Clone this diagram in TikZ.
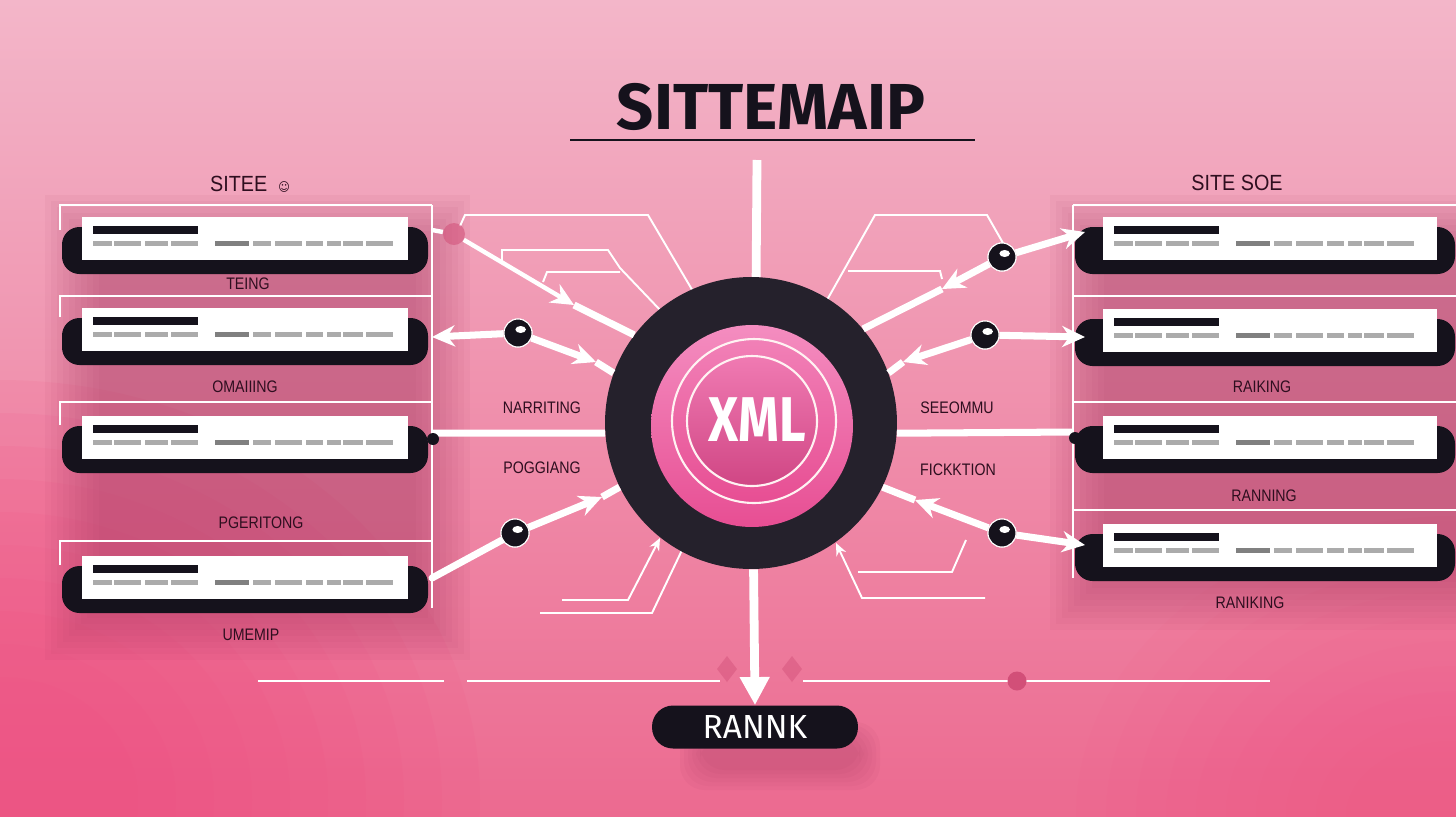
\documentclass[tikz,border=0pt]{standalone}
\usepackage{fontspec}
\setmainfont{Liberation Sans}
\newfontfamily\headfont{Fira Sans}
\newfontfamily\symfont{DejaVu Sans}
\usetikzlibrary{arrows.meta}
\definecolor{bgtop}{HTML}{F3B6C9}
\definecolor{bgbot}{HTML}{EC6A90}
\definecolor{hotbg}{HTML}{F24C80}
\definecolor{mauve}{HTML}{A3365F}
\definecolor{ink}{HTML}{15121C}
\definecolor{disc}{HTML}{25212C}
\definecolor{hotpink}{HTML}{E74E93}
\definecolor{lightpink}{HTML}{F48DC0}
\definecolor{dashgray}{HTML}{ABABAB}
\definecolor{labelink}{HTML}{2E0E1F}
\definecolor{dotpink}{HTML}{D24F78}

\tikzset{
  frame/.style={white, line width=1.1pt},
  wire/.style={white, line width=4pt},
  thinwire/.style={white, line width=1.1pt},
  tip/.style={-{Stealth[length=13pt,width=12pt]}},
  lbl/.style={font=\fontsize{9.5}{10}\selectfont, text=labelink, inner sep=0pt, xscale=.85},
  head/.style={font=\fontsize{12.5}{13}\selectfont, text=labelink, inner sep=0pt, xscale=.9},
  knob/.style={circle, fill=ink, draw=white, line width=.6pt, minimum size=0.56cm, inner sep=0pt},
  smallknob/.style={circle, fill=ink, minimum size=0.24cm, inner sep=0pt},
  pinkdot/.style={circle, fill=dotpink, opacity=.55, minimum size=0.44cm, inner sep=0pt},
}

% card with shadow bar: x, y, width, shadow left, shadow right
\newcommand\sitecard[5]{%
  \fill[ink, rounded corners=10pt] (#4,#2+10) rectangle (#5,#2+57);
  \fill[white] (#1,#2) rectangle (#1+#3,#2+43);
  \fill[ink] (#1+11,#2+9) rectangle (#1+116,#2+17);
  \foreach \a/\b in {11/30,32/59,63/86,89/116,171/189,193/220,224/241,245/259,261/281,284/311}
    {\fill[dashgray] (#1+\a,#2+24) rectangle (#1+\b,#2+29);}
  \fill[gray] (#1+133,#2+24) rectangle (#1+167,#2+29);
}
\newcommand\glint[1]{\fill[white] ([xshift=1.5pt,yshift=2pt]#1.center) ellipse (3pt and 2pt);}

\begin{document}
\begin{tikzpicture}[x=0.02cm,y=-0.02cm,>=Stealth]
\useasboundingbox (0,0) rectangle (1456,816);

% background
\shade[top color=bgtop, bottom color=bgbot] (0,0) rectangle (1456,816);
\foreach \i in {0,...,9} {
  \fill[hotbg, opacity=.09] (0,800) ellipse ({480-\i*38} and {420-\i*33});
  \fill[hotbg, opacity=.04] (1456,816) ellipse ({380-\i*30} and {300-\i*25});
}
\foreach \i in {0,...,9} {
  \fill[mauve, opacity=.055] (45+\i*6,195+\i*6) rectangle (470-\i*6,660-\i*6);
  \fill[mauve, opacity=.055] (1050+\i*6,195+\i*6) rectangle (1456,630-\i*6);
}

% title
\node[font=\headfont\bfseries\fontsize{37}{37}\selectfont, text=ink, inner sep=0pt] (title) at (771,107) {SITTEMAIP};
\draw[ink, line width=.8pt] (570,140) -- (975,140);

% left panel
\node[head] (lhead) at (250,184) {SITEE\hspace{7pt}{\symfont\fontsize{7}{7}\selectfont ☺}};
\foreach \t/\b in {205/230,296/317,402/425,541/565}
  {\draw[frame] (60,\b) -- (60,\t) -- (432,\t);}
\draw[frame] (432,205) -- (432,608);
\sitecard{82}{217}{326}{62}{428}
\sitecard{82}{308}{326}{62}{428}
\sitecard{82}{416}{326}{62}{428}
\sitecard{82}{556}{326}{62}{428}
\node[lbl] (l1) at (248,284) {TEING};
\node[lbl] (l2) at (245,387) {OMAIIING};
\node[lbl] (l3) at (261,523) {PGERITONG};
\node[lbl] (l4) at (251,635) {UMEMIP};

% right panel
\node[head] (rhead) at (1237,183) {SITE SOE};
\foreach \t in {205,296,402,510}
  {\draw[frame] (1456,\t) -- (1073,\t);}
\draw[frame] (1073,205) -- (1073,578);
\sitecard{1103}{217}{334}{1075}{1455}
\sitecard{1103}{309}{334}{1075}{1455}
\sitecard{1103}{416}{334}{1075}{1455}
\sitecard{1103}{524}{334}{1075}{1455}
\node[lbl] (r1) at (1262,387) {RAIKING};
\node[lbl] (r2) at (1264,496) {RANNING};
\node[lbl] (r3) at (1250,603) {RANIKING};

% middle labels
\node[lbl] (m1) at (542,408) {NARRITING};
\node[lbl] (m2) at (542,468) {POGGIANG};
\node[lbl] (m3) at (957,408) {SEEOMMU};
\node[lbl] (m4) at (958,470) {FICKKTION};

% decorative thin lines
\draw[thinwire] (460,226) -- (465,215) -- (648,215) -- (694,293);
\draw[thinwire] (502,262) -- (502,250) -- (608,250) -- (620,268) -- (662,312);
\draw[thinwire] (543,282) -- (547,272) -- (620,272);
\draw[thinwire] (827,300) -- (875,215) -- (987,215) -- (1003,243);
\draw[thinwire] (848,271) -- (940,271) -- (942,279);
\draw[thinwire] (540,613) -- (652,613) -- (683,548);
\draw[thinwire, -{Stealth[length=7pt,width=6pt]}] (562,600) -- (628,600) -- (660,538);
\draw[thinwire, -{Stealth[length=7pt,width=6pt]}] (985,598) -- (862,598) -- (836,543);
\draw[thinwire] (858,572) -- (952,572) -- (966,540);

% hub
\node[circle, fill=disc, minimum size=5.84cm, inner sep=0pt] (hub) at (751,423) {};
\node[circle, top color=lightpink, bottom color=hotpink, minimum size=4.04cm, inner sep=0pt] (core) at (752,426) {};
\draw[white!80!pink, line width=1.2pt, top color=lightpink!80!hotpink, bottom color=hotpink] (754,421) circle (1.64cm);
\draw[white!80!pink, line width=1.2pt, top color=lightpink!70!hotpink, bottom color=hotpink!90!black] (752,421) circle (1.3cm);
\node[font=\headfont\bfseries\fontsize{36}{36}\selectfont, text=white, xscale=.82, inner sep=0pt] (xml) at (757,420) {XML};

% left connectors
\coordinate (lf1) at (432,230);
\node[pinkdot] (pd1) at (454,234) {};
\coordinate (ah1) at (574,305);
\draw[white, line width=2.5pt] (lf1) -- (pd1);
\draw[white, line width=2.5pt, tip] (pd1) -- (ah1);
\draw[wire] (ah1) -- (hub.143);

\coordinate (lf2) at (432,337);
\node[knob] (k1) at (518,333) {};
\coordinate (ah2) at (596,362);
\draw[wire, tip] (k1) -- (lf2);
\draw[wire, tip] (k1) -- (ah2);
\draw[wire] (ah2) -- (hub.160);

\coordinate (lf3) at (432,433);
\draw[wire] (hub.184) -- (lf3);
\node[smallknob] (k2) at (433,439) {};

\coordinate (lf4) at (432,578);
\node[knob] (k3) at (515,533) {};
\coordinate (ah4) at (602,497);
\draw[wire, line cap=round] (k3) -- (lf4);
\draw[wire, tip] (k3) -- (ah4);
\draw[wire] (ah4) -- (hub.206);

% right connectors
\coordinate (rf1) at (1085,232);
\node[knob] (k4) at (1002,257) {};
\coordinate (ah5) at (942,289);
\draw[wire, tip] (k4) -- (rf1);
\draw[wire, tip] (k4) -- (ah5);
\draw[wire] (ah5) -- (hub.40);

\coordinate (rf2) at (1085,337);
\node[knob] (k5) at (985,335) {};
\coordinate (ah6) at (903,362);
\draw[wire, tip] (k5) -- (rf2);
\draw[wire, tip] (k5) -- (ah6);
\draw[wire] (ah6) -- (hub.20);

\coordinate (rf3) at (1073,432);
\draw[wire] (hub.356) -- (rf3);
\node[smallknob] (k6) at (1075,438) {};

\coordinate (rf4) at (1085,545);
\node[knob] (k7) at (1002,533) {};
\coordinate (ah8) at (915,500);
\draw[wire, tip] (k7) -- (rf4);
\draw[wire, tip] (k7) -- (ah8);
\draw[wire] (ah8) -- (hub.334);

% knobs on top of the wires
\foreach \k in {k1,k3,k4,k5,k7} {
  \node[knob] at (\k) {};
  \glint{\k}
}

% bottom rule
\draw[white, line width=1.6pt] (258,681) -- (444,681);
\draw[white, line width=1.6pt] (467,681) -- (720,681);
\draw[white, line width=1.6pt] (803,681) -- (1270,681);
\node[circle, fill=dotpink, minimum size=0.38cm, inner sep=0pt] (bd) at (1017,681) {};
\fill[dotpink, opacity=.45] (727,656) -- (737,669) -- (727,682) -- (717,669) -- cycle;
\fill[dotpink, opacity=.45] (792,656) -- (802,669) -- (792,682) -- (782,669) -- cycle;

% top and bottom spokes
\coordinate (top) at (757,160);
\draw[white, line width=5pt] (top) -- (hub.88);
\foreach \i in {0,...,5}
  {\fill[mauve, opacity=.06, rounded corners=14pt] (680+\i*4,722+\i*3) rectangle (880-\i*4,790-\i*4);}
\node[fill=ink, rounded corners=12pt, minimum width=4.12cm, minimum height=0.86cm, text=white,
      font=\headfont\fontsize{19}{19}\selectfont] (rank) at (755,727) {RANNK};
\draw[white, line width=5pt, -{Triangle[length=16pt,width=16pt]}] (hub.271) -- (rank.north);
\end{tikzpicture}
\end{document}
